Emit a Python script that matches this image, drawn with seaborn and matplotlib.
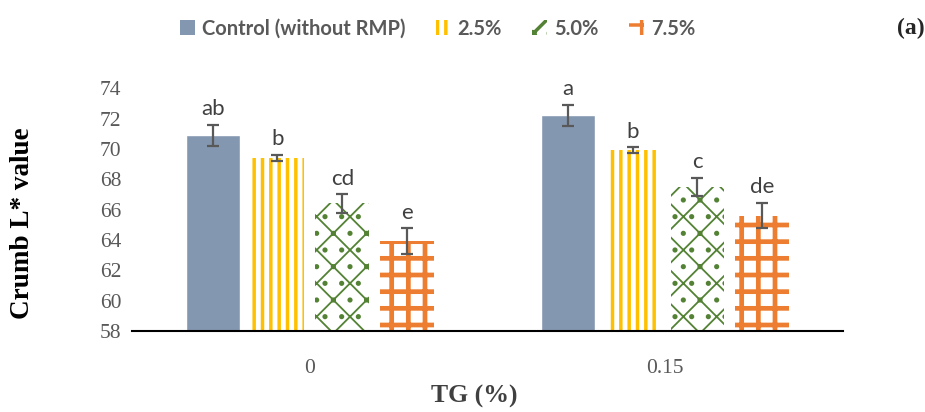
import pandas as pd
import numpy as np
import matplotlib.pyplot as plt
import matplotlib.patches as mpatches
import seaborn as sns

# data
tg_levels = ["0", "0.15"]
groups = ["Control (without RMP)", "2.5%", "5.0%", "7.5%"]
means_tg0 = [70.9, 69.4, 66.4, 63.9]
means_tg015 = [72.2, 69.9, 67.5, 65.6]
err_tg0 = [0.7, 0.2, 0.6, 0.85]
err_tg015 = [0.7, 0.2, 0.6, 0.85]
letters_tg0 = ["ab", "b", "cd", "e"]
letters_tg015 = ["a", "b", "c", "de"]
y_ticks = [58, 60, 62, 64, 66, 68, 70, 72, 74]

colors = ["#8497B0", "#FFC000", "#548235", "#ED7D31"]
hatches = [None, "||", "x.", "+"]
hatch_lw = [0, 2.5, 1.3, 3.4]

df = pd.DataFrame({
    "TG": np.repeat(tg_levels, len(groups)),
    "group": groups * len(tg_levels),
    "value": means_tg0 + means_tg015,
    "err": err_tg0 + err_tg015,
    "letter": letters_tg0 + letters_tg015,
})

sns.set_style("white")
plt.rcParams["hatch.linewidth"] = 2.5

fig = plt.figure(figsize=(9.25, 4.12), dpi=100)
ax = fig.add_axes([0.143, 0.197, 0.768, 0.589])

sns.barplot(data=df, x="TG", y="value", hue="group", hue_order=groups,
            order=tg_levels, palette=colors, errorbar=None, width=0.73,
            gap=0.17, saturation=1, legend=False, ax=ax)


def style_patch(p, gi):
    if hatches[gi]:
        p.set_facecolor("white")
        p.set_edgecolor(colors[gi])
        p.set_hatch(hatches[gi])
        p.set_linewidth(0)
        if hasattr(p, "set_hatch_linewidth"):
            p.set_hatch_linewidth(hatch_lw[gi])


# style the bars and add error bars / letters
gray = "#595959"
bar_containers = list(ax.containers)
for gi, cont in enumerate(bar_containers):
    sub = df[df["group"] == groups[gi]]
    for bar, (_, row) in zip(cont.patches, sub.iterrows()):
        style_patch(bar, gi)
        cx = bar.get_x() + bar.get_width() / 2
        ax.errorbar(cx, row["value"], yerr=row["err"], color=gray, capsize=4.5,
                    elinewidth=1.6, capthick=1.6, fmt="none")
        ax.annotate(row["letter"], (cx, row["value"] + row["err"]),
                    xytext=(0, 4), textcoords="offset points", ha="center",
                    va="bottom", fontsize=16, color="#404040", family="Lato")

ax.set_ylim(58, 74)
ax.set_xlim(-0.5, 1.5)
ax.set_yticks(y_ticks)
ax.set_yticklabels([str(t) for t in y_ticks], family="Liberation Serif",
                   fontsize=15.5, color=gray)
ax.set_xticklabels(tg_levels, family="Liberation Serif", fontsize=15.5, color=gray)
ax.tick_params(axis="y", length=0, pad=8)
ax.tick_params(axis="x", length=0, pad=20)
ax.set_xticks([-0.5, 0.5, 1.5], minor=True)
ax.tick_params(axis="x", which="minor", direction="in", length=5, width=1.5, color="black")

for s in ["top", "right", "left"]:
    ax.spines[s].set_visible(False)
ax.spines["bottom"].set_color("black")
ax.spines["bottom"].set_linewidth(1.5)

ax.set_ylabel("Crumb L* value", family="Liberation Serif", fontweight="bold",
              fontsize=19.5, color="black")
ax.yaxis.set_label_coords(-0.137, 0.444)
ax.set_xlabel("TG (%)", family="Liberation Serif", fontweight="bold",
              fontsize=18.5, color="#404040")
ax.xaxis.set_label_coords(0.481, -0.222)

handles = []
for gi, c in enumerate(colors):
    hp = mpatches.Patch(facecolor=c, linewidth=0)
    style_patch(hp, gi)
    handles.append(hp)
fig.legend(handles, groups, loc="center", bbox_to_anchor=(0.473, 0.93), ncol=4,
           frameon=False, handlelength=0.75, handleheight=0.75, handletextpad=0.35,
           columnspacing=1.5, prop={"family": "Lato", "weight": "bold", "size": 14.5},
           labelcolor=gray)

fig.text(0.985, 0.93, "(a)", family="Liberation Serif", fontweight="bold",
         fontsize=17, ha="center", va="center")

fig.savefig("out.png", dpi=100)
